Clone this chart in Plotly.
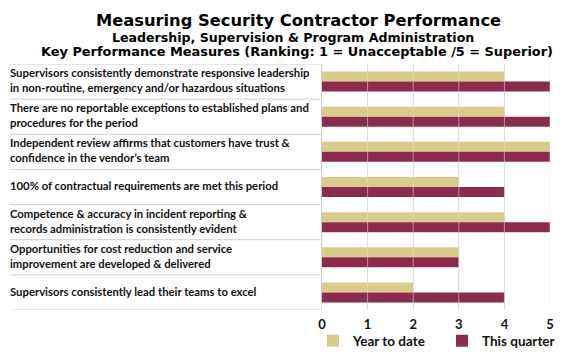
import plotly.graph_objects as go

categories = [
    "Supervisors consistently demonstrate responsive leadership<br>in non-routine, emergency and/or hazardous situations",
    "There are no reportable exceptions to established plans and<br>procedures for the period",
    "Independent review affirms that customers have trust &<br>confidence in the vendor\u2019s team",
    "100% of contractual requirements are met this period",
    "Competence & accuracy in incident reporting &<br>records administration is consistently evident",
    "Opportunities for cost reduction and service<br>improvement are developed & delivered",
    "Supervisors consistently lead their teams to excel",
]
year_to_date = [4, 4, 5, 3, 4, 3, 2]
this_quarter = [5, 5, 5, 4, 5, 3, 4]
tick_values = [0, 1, 2, 3, 4, 5]
series_names = ["Year to date", "This quarter"]
colors = ["#D8CB8B", "#8B2C4E"]

W, H = 576, 357
L, R, T, B = 322, 26, 64, 47
pw = W - L - R
ph = H - T - B

ids = list(range(len(categories)))

fig = go.Figure()
fig.add_trace(go.Bar(y=ids, x=year_to_date, orientation="h", name="<b>%s</b>" % series_names[0],
                     marker=dict(color=colors[0], line=dict(width=0))))
fig.add_trace(go.Bar(y=ids, x=this_quarter, orientation="h", name="<b>%s</b>" % series_names[1],
                     marker=dict(color=colors[1], line=dict(width=0))))

label_font = dict(family="Lato, 'Open Sans', sans-serif", size=11.3, color="#111111")
annotations = []
for i, c in enumerate(categories):
    annotations.append(dict(x=-(L - 8) / pw, y=i - 0.04, xref="paper", yref="y", text="<b>%s</b>" % c,
                            showarrow=False, xanchor="left", yanchor="middle", align="left",
                            font=label_font))

shapes = []
for k in range(len(categories) + 1):
    shapes.append(dict(type="line", xref="paper", yref="y", x0=-(L - 10) / pw, x1=0,
                       y0=k - 0.5, y1=k - 0.5, line=dict(color="#D0D0D0", width=1)))
for v in tick_values[1:]:
    shapes.append(dict(type="line", xref="x", yref="paper", x0=v, x1=v, y0=0, y1=1,
                       layer="above", line=dict(color="rgba(225,225,225,0.55)", width=1)))

def px_x(px):
    return (px - L) / pw

def px_y(py):
    return (H - B - py) / ph

title_font = "'DejaVu Sans', Verdana, sans-serif"
annotations += [
    dict(x=px_x(298), y=px_y(20.5), xref="paper", yref="paper", showarrow=False,
         text="<b>Measuring Security Contractor Performance</b>", xanchor="center", yanchor="middle",
         font=dict(family=title_font, size=16.3, color="#000000")),
    dict(x=px_x(293), y=px_y(37.5), xref="paper", yref="paper", showarrow=False,
         text="<b>Leadership, Supervision & Program Administration</b>", xanchor="center", yanchor="middle",
         font=dict(family=title_font, size=12.6, color="#000000")),
    dict(x=px_x(297), y=px_y(51), xref="paper", yref="paper", showarrow=False,
         text="<b>Key Performance Measures (Ranking: 1 = Unacceptable /5 = Superior)</b>",
         xanchor="center", yanchor="middle",
         font=dict(family=title_font, size=12.9, color="#000000")),
]

fig.update_layout(
    width=W, height=H,
    margin=dict(l=L, r=R, t=T, b=B, pad=0, autoexpand=False),
    paper_bgcolor="white", plot_bgcolor="white",
    barmode="group", bargap=0.43, bargroupgap=0,
    showlegend=True,
    legend=dict(orientation="h", x=px_x(313), y=px_y(341), xref="paper", yref="paper",
                xanchor="left", yanchor="middle",
                entrywidth=84, entrywidthmode="pixels", traceorder="normal",
                font=dict(family="Lato, sans-serif", size=13.5, color="#111111"),
                bgcolor="rgba(0,0,0,0)", itemclick=False),
    xaxis=dict(range=[0, 5], tickvals=tick_values, ticktext=["<b>%d</b>" % v for v in tick_values],
               showgrid=True, gridcolor="#D9D9D9", gridwidth=1, zeroline=False,
               showline=False, ticks="", ticklabelstandoff=5,
               tickfont=dict(family="Lato, sans-serif", size=13, color="#111111"),
               fixedrange=True),
    yaxis=dict(range=[len(categories) - 0.5, -0.5], showticklabels=False, showgrid=False,
               zeroline=False, showline=True, linecolor="#D0D0D0", linewidth=1, ticks="",
               fixedrange=True),
    shapes=shapes,
    annotations=annotations,
)

fig.write_html("out.html", config={"displayModeBar": False})

with open("out.html", "r", encoding="utf-8") as f:
    html = f.read()
html = html.replace("<body>", '<body style="margin:0;padding:0;overflow:hidden">', 1)
with open("out.html", "w", encoding="utf-8") as f:
    f.write(html)
